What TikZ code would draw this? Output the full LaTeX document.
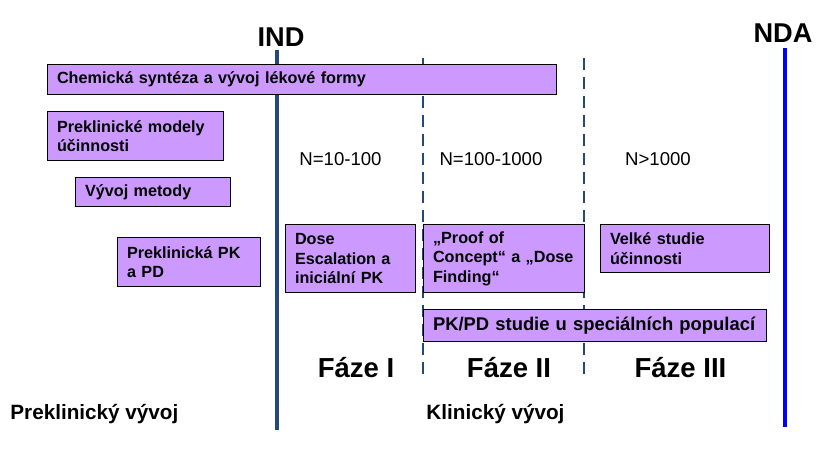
\documentclass[tikz,border=0pt]{standalone}
\usepackage{fontspec}
\setmainfont{Liberation Sans}
\usetikzlibrary{positioning}
\definecolor{boxfill}{RGB}{204,153,255}
\definecolor{indblue}{RGB}{37,72,122}

\begin{document}
\begin{tikzpicture}[x=0.5pt, y=-0.5pt,
    box/.style={draw=black, line width=0.55pt, fill=boxfill, anchor=north west, inner xsep=4.75pt, inner ysep=0pt, align=left, font=\fontsize{8.1}{9.75}\selectfont\bfseries},
    milestone/.style={anchor=base, inner sep=0pt, font=\fontsize{13.6}{16}\selectfont\bfseries},
    phase/.style={anchor=base, inner sep=0pt, font=\fontsize{13.75}{16}\selectfont\bfseries},
    count/.style={anchor=base, inner sep=0pt, font=\fontsize{9.3}{11}\selectfont},
    stage/.style={anchor=base west, inner sep=0pt, font=\fontsize{10.35}{12}\selectfont\bfseries}]
\useasboundingbox (0,0) rectangle (827,451);

% Milestones
\node[milestone] (ind) at (281,46.5) {IND};
\node[milestone] (nda) at (783,42.5) {NDA};
\coordinate (indtop) at (277,50);
\coordinate (indbot) at (277,430);
\coordinate (ndatop) at (785,48);
\coordinate (ndabot) at (785,427);
\draw[indblue, line width=2pt] (indtop) -- (indbot);
\draw[blue, line width=2pt] (ndatop) -- (ndabot);

% Phase borders
\foreach \x in {423,584} {
    \coordinate (top\x) at (\x,58);
    \coordinate (bot\x) at (\x,377);
    \draw[indblue, line width=1pt, dash pattern=on 6pt off 3.5pt] (top\x) -- (bot\x);
}

% Activities
\node[box, text width=245pt, minimum height=15pt] (chem) at (47,64) {Chemická syntéza a vývoj lékové formy};
\node[box, text width=78.5pt, minimum height=24.5pt] (models) at (47,111) {Preklinické modely\\účinnosti};
\node[box, text width=68pt, minimum height=14.5pt] (method) at (75,177) {Vývoj metody};
\node[box, text width=62pt, minimum height=24.5pt] (prepk) at (117,237) {Preklinická PK\\a PD};
\node[box, text width=55.5pt, minimum height=34pt] (dose) at (285,224) {Dose\\Escalation a\\iniciální PK};
\node[box, text width=71pt, minimum height=34pt] (proof) at (423,224) {„Proof of\\Concept“ a „Dose\\Finding“};
\node[box, text width=75pt, minimum height=24pt] (large) at (600,224) {Velké studie\\účinnosti};
\node[box, text width=162pt, minimum height=16pt, font=\fontsize{9.2}{11}\selectfont\bfseries] (special) at (423,309) {\mbox{PK/PD studie u speciálních populací}};

% Subjects per phase
\foreach \x/\t [count=\i] in {340.5/{N=10-100}, 491/{N=100-1000}, 658/{N>1000}}
    \node[count] (n\i) at (\x,165) {\t};

% Phases
\foreach \x/\t [count=\i] in {356/{Fáze I}, 509/{Fáze II}, 680.5/{Fáze III}}
    \node[phase] (phase\i) at (\x,377) {\t};

% Stages
\node[stage] (precl) at (10,419) {Preklinický vývoj};
\node[stage] (clin) at (426,419) {Klinický vývoj};
\end{tikzpicture}
\end{document}
